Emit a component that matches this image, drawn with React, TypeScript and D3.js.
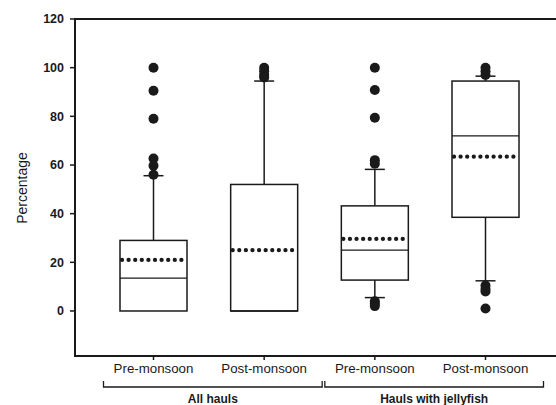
import React from "react";
import * as d3 from "d3";

const categories = ["Pre-monsoon", "Post-monsoon", "Pre-monsoon", "Post-monsoon"];
const groups = [
  { label: "All hauls", members: [0, 1] },
  { label: "Hauls with jellyfish", members: [2, 3] },
];
const q1 = [0, 0, 12.7, 38.5];
const q3 = [29, 52, 43.2, 94.5];
const median = [13.5, 0, 25, 72];
const mean = [21, 25, 29.6, 63.4];
const whiskerLow = [0, 0, 5.5, 12.4];
const whiskerHigh = [55.6, 94.5, 58.2, 96.5];
const outliers = [
  [100, 90.5, 79, 62.7, 59.7, 56],
  [100, 98.5, 97, 96],
  [100, 90.8, 79.4, 62, 60.5, 4, 3, 2],
  [100, 98.5, 97, 10.5, 9, 8, 1],
];
const yTicks = [0, 20, 40, 60, 80, 100, 120];

const W = 556;
const H = 405;
const left = 75;
const top = 19;
const bottom = 356;
const boxW = 67;
const capW = 20;
const ink = "#1a1a1a";
const font = "'Liberation Sans', Arial, sans-serif";

export default function App() {
  const y = d3.scaleLinear().domain([-18.5, 120]).range([bottom, top]);
  const x = d3
    .scalePoint<number>()
    .domain(categories.map((_, i) => i))
    .range([153.5, 485.5]);

  return (
    <svg
      width={W}
      height={H}
      style={{ position: "absolute", left: 0, top: 0, background: "#fff" }}
    >
      {/* frame: right edge falls outside the picture */}
      <rect
        x={left}
        y={top}
        width={W + 20 - left}
        height={bottom - top}
        fill="none"
        stroke={ink}
        strokeWidth={2}
      />

      {/* y axis */}
      {yTicks.map((t) => (
        <g key={t}>
          <line x1={left - 5} x2={left} y1={y(t)} y2={y(t)} stroke={ink} strokeWidth={1.5} />
          <text
            x={left - 11}
            y={y(t)}
            dy="0.35em"
            textAnchor="end"
            fontFamily={font}
            fontWeight="bold"
            fontSize={12.5}
            fill={ink}
          >
            {t}
          </text>
        </g>
      ))}
      <text
        transform={`translate(22,188) rotate(-90)`}
        textAnchor="middle"
        dy="0.35em"
        fontFamily={font}
        fontSize={14}
        fill={ink}
      >
        Percentage
      </text>

      {/* boxes */}
      {categories.map((c, i) => {
        const cx = x(i)!;
        return (
          <g key={i}>
            {whiskerHigh[i] > q3[i] && (
              <>
                <line x1={cx} x2={cx} y1={y(q3[i])} y2={y(whiskerHigh[i])} stroke={ink} strokeWidth={1.5} />
                <line
                  x1={cx - capW / 2}
                  x2={cx + capW / 2}
                  y1={y(whiskerHigh[i])}
                  y2={y(whiskerHigh[i])}
                  stroke={ink}
                  strokeWidth={1.5}
                />
              </>
            )}
            {whiskerLow[i] < q1[i] && (
              <>
                <line x1={cx} x2={cx} y1={y(q1[i])} y2={y(whiskerLow[i])} stroke={ink} strokeWidth={1.5} />
                <line
                  x1={cx - capW / 2}
                  x2={cx + capW / 2}
                  y1={y(whiskerLow[i])}
                  y2={y(whiskerLow[i])}
                  stroke={ink}
                  strokeWidth={1.5}
                />
              </>
            )}
            <rect
              x={cx - boxW / 2}
              y={y(q3[i])}
              width={boxW}
              height={y(q1[i]) - y(q3[i])}
              fill="none"
              stroke={ink}
              strokeWidth={1.5}
            />
            <line
              x1={cx - boxW / 2}
              x2={cx + boxW / 2}
              y1={y(median[i])}
              y2={y(median[i])}
              stroke={ink}
              strokeWidth={1.3}
            />
            <line
              x1={cx - boxW / 2 + 2}
              x2={cx + boxW / 2}
              y1={y(mean[i])}
              y2={y(mean[i])}
              stroke={ink}
              strokeWidth={4.3}
              strokeLinecap="round"
              strokeDasharray="0 6.6"
            />
            {outliers[i].map((v, j) => (
              <circle key={j} cx={cx} cy={y(v)} r={5} fill={ink} />
            ))}
            {/* x tick and label */}
            <line x1={cx} x2={cx} y1={bottom} y2={bottom + 4} stroke={ink} strokeWidth={1.5} />
            <text
              x={cx}
              y={373}
              textAnchor="middle"
              fontFamily={font}
              fontSize={13.3}
              fill={ink}
            >
              {c}
            </text>
          </g>
        );
      })}

      {/* group brackets */}
      {groups.map((g) => {
        const a = x(g.members[0])! - 50;
        const b = x(g.members[g.members.length - 1])! + 58;
        return (
          <g key={g.label}>
            <path
              d={`M${a},381V387H${b}V381`}
              fill="none"
              stroke={ink}
              strokeWidth={1.3}
            />
            <text
              x={(a + b) / 2}
              y={403}
              textAnchor="middle"
              fontFamily={font}
              fontWeight="bold"
              fontSize={12}
              fill={ink}
            >
              {g.label}
            </text>
          </g>
        );
      })}
    </svg>
  );
}
